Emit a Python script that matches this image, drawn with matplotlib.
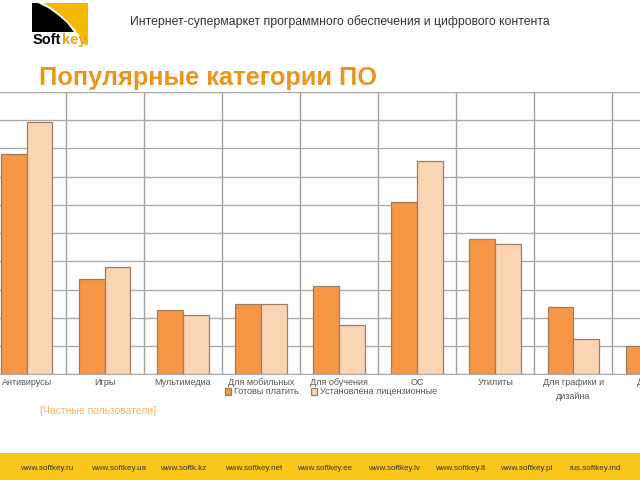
import numpy as np
import matplotlib
matplotlib.use("Agg")
import matplotlib.pyplot as plt
from matplotlib.patches import Rectangle, Polygon

plt.rcParams['font.family'] = ['Liberation Sans', 'DejaVu Sans']

# data (in grid units, 10 gridlines)
categories = ['Антивирусы', 'Игры', 'Мультимедиа', 'Для мобильных', 'Для обучения',
              'ОС', 'Утилиты', 'Для графики и\nдизайна', 'Другое']
ready_to_pay = [7.8, 3.39, 2.27, 2.48, 3.14, 6.1, 4.8, 2.38, 1.0]
licensed = [8.95, 3.8, 2.1, 2.48, 1.76, 7.57, 4.62, 1.26, np.nan]
series_names = ['Готовы платить', 'Установлена лицензионные']
sites = ['www.softkey.ru', 'www.softkey.ua', 'www.softk.kz', 'www.softkey.net', 'www.softkey.ee',
         'www.softkey.lv', 'www.softkey.lt', 'www.softkey.pl', 'rus.softkey.md']
site_x = [20, 91, 160, 225, 297, 368, 435, 500, 569]

fig = plt.figure(figsize=(6.4, 4.8), dpi=100)

# decorations in pixel coords
bg = fig.add_axes([0, 0, 1, 1], zorder=-1)
bg.set_xlim(0, 640)
bg.set_ylim(480, 0)
bg.axis('off')

# logo
bg.add_patch(Polygon([(43, 3), (88, 3), (88, 45), (85, 45), (80, 36), (72, 26), (62, 16), (52, 8)],
                     closed=True, color='#F5B800', lw=0))
bg.add_patch(Polygon([(32, 3), (38, 3), (48, 8), (58, 15), (67, 23), (74, 32), (32, 32)],
                     closed=True, color='black', lw=0))
bg.text(33, 40, 'Soft', fontsize=10.5, fontweight='bold', color='black', va='center', ha='left')
bg.text(62, 40, 'key', fontsize=10.5, fontweight='bold', color='#F0A020', va='center', ha='left')

bg.text(130, 22, 'Интернет-супермаркет программного обеспечения и цифрового контента',
        fontsize=8.8, color='#333333', va='center', ha='left')
bg.text(39, 78, 'Популярные категории ПО', fontsize=18.3, fontweight='bold',
        color='#E8961F', va='center', ha='left')
bg.text(40, 411, '[Частные пользователи]', fontsize=7.5, color='#F3B865',
        va='center', ha='left')

# footer
bg.add_patch(Rectangle((0, 453), 640, 27, color='#F9C61A', lw=0))
for sx, s in zip(site_x, sites):
    bg.text(sx, 468, s, fontsize=5.8, color='#333333', va='center', ha='left')

# chart
ax = fig.add_axes([-12.5 / 640, 1 - 374.3 / 480, 703 / 640, 282.3 / 480])
x = np.arange(len(categories))
w = 0.33
b1 = ax.bar(x - w, ready_to_pay, w, align='edge', color='#F79646',
            edgecolor='#9E7E62', linewidth=0.9, zorder=3)
b2 = ax.bar(x, licensed, w, align='edge', color='#FBD4B4',
            edgecolor='#9E7E62', linewidth=0.9, zorder=3)

ax.set_xlim(-0.5, len(categories) - 0.5)
ax.set_ylim(0, 10)
ax.set_yticks(range(11))
ax.set_yticklabels([])
ax.set_xticks(x)
ax.set_xticklabels(categories, fontsize=6.5, color='#555555', linespacing=1.6)
ax.set_xticks(np.arange(-0.5, len(categories), 1), minor=True)
ax.tick_params(length=0, which='both', pad=3)
ax.grid(axis='y', which='major', color='#AAAAAA', linewidth=1.0, zorder=0)
ax.grid(axis='x', which='minor', color='#A0A0A0', linewidth=1.0, zorder=0)
for side in ['top', 'left', 'right']:
    ax.spines[side].set_visible(False)
ax.spines['bottom'].set_color('#AAAAAA')

fig.legend([b1, b2], series_names, loc='center', bbox_to_anchor=(331 / 640, 1 - 392 / 480),
           ncol=2, frameon=False, fontsize=6.5, handlelength=0.7, handleheight=0.7,
           handletextpad=0.3, columnspacing=1.3, labelcolor='#555555')

fig.savefig('out.png', dpi=100)
